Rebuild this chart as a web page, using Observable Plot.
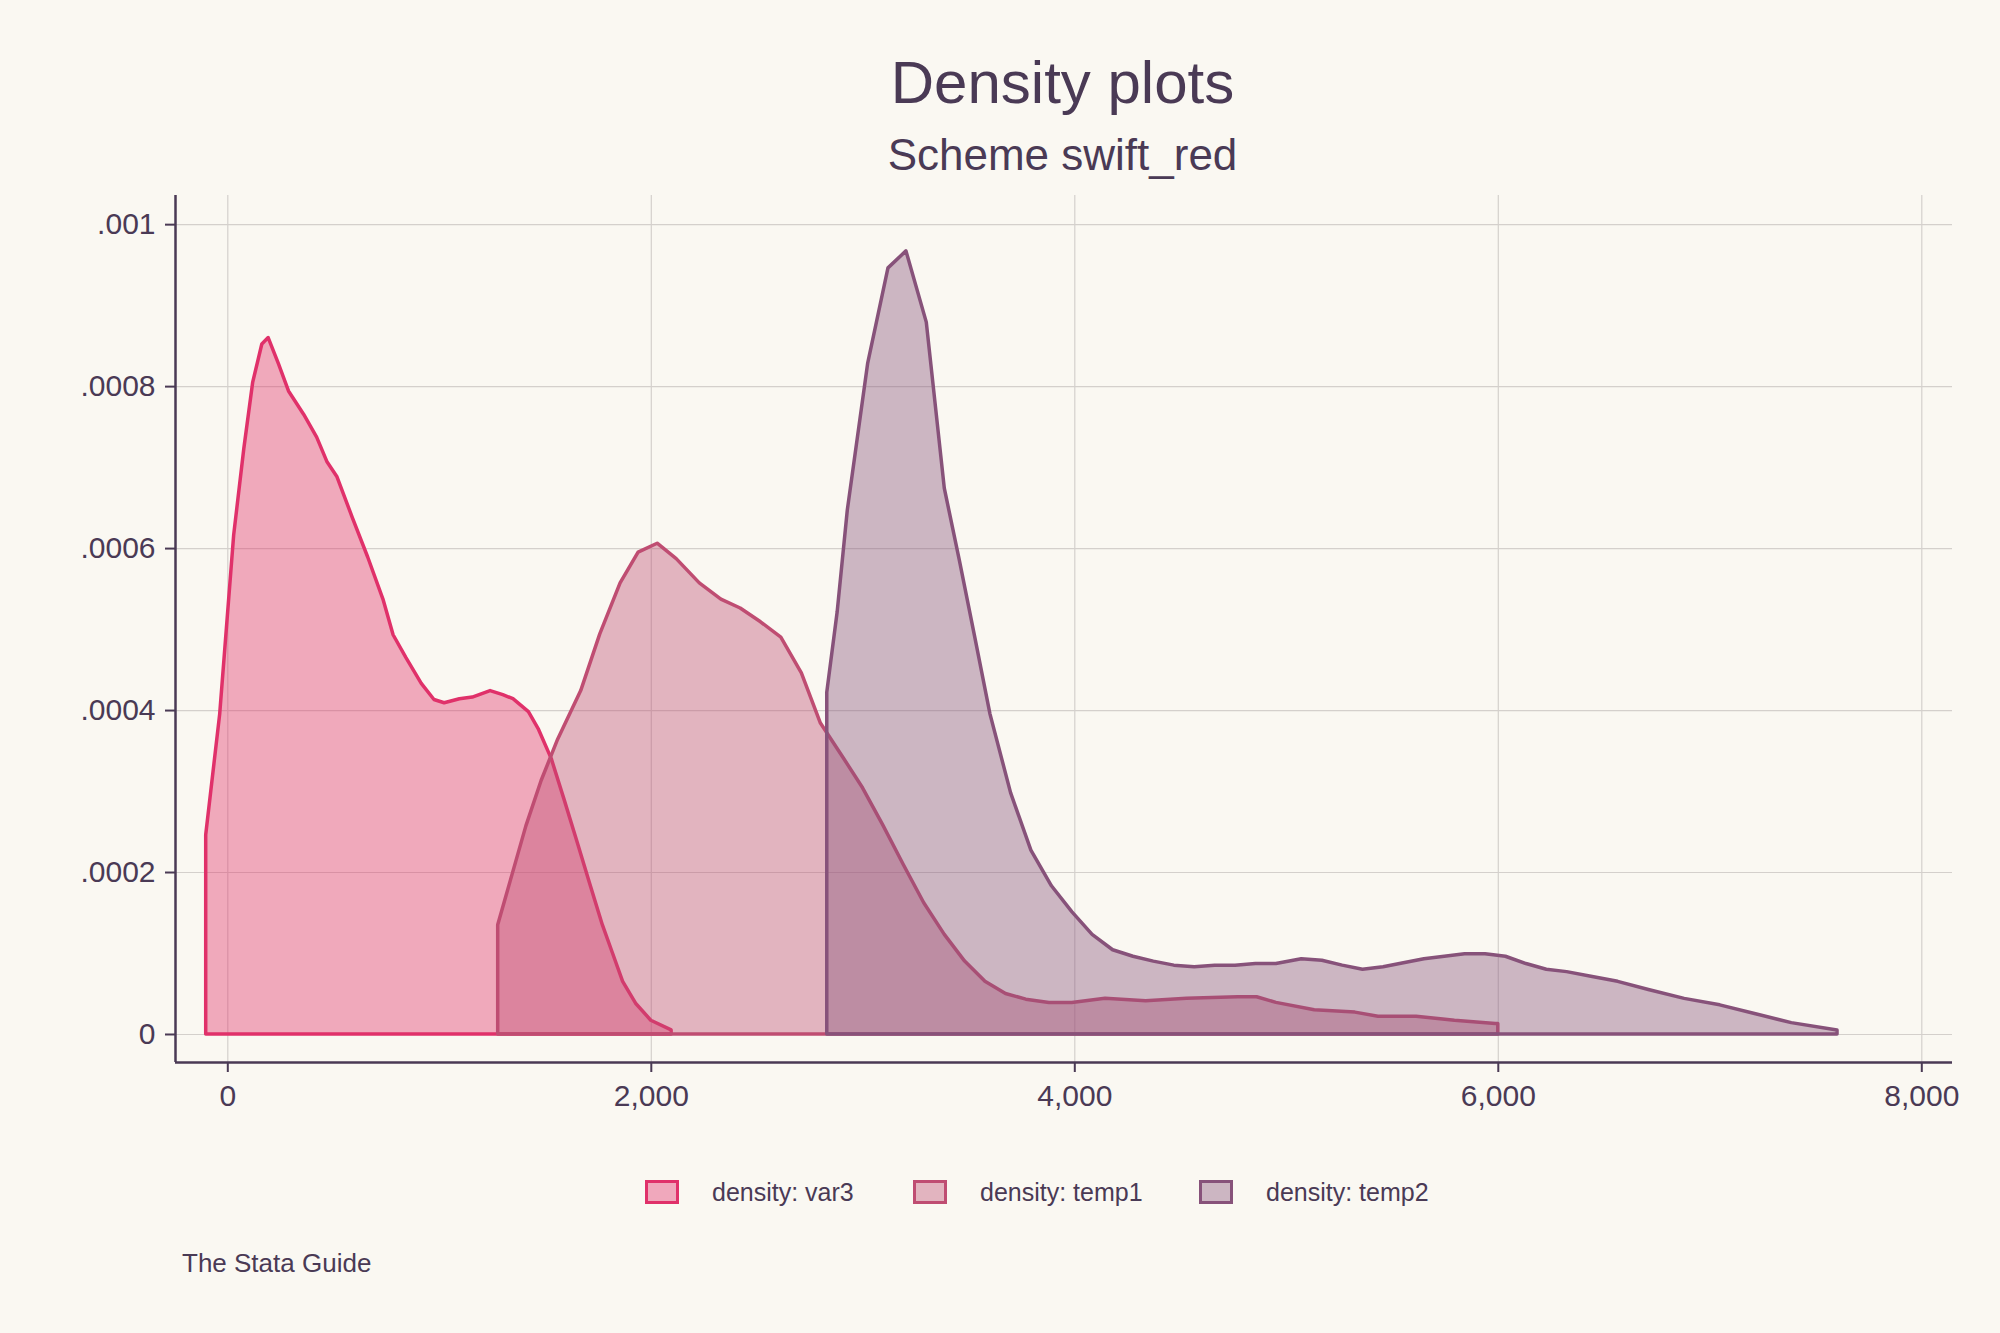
<!DOCTYPE html>
<html>
<head>
<meta charset="utf-8">
<script src="https://cdn.jsdelivr.net/npm/d3@7"></script>
<script src="https://cdn.jsdelivr.net/npm/@observablehq/plot@0.6"></script>
<style>
  body { margin: 0; background: #faf8f2; font-family: "Liberation Sans Narrow", "Liberation Sans", sans-serif; font-stretch: condensed; color: #4a3a55; }
  #wrap { position: relative; width: 2000px; height: 1333px; }
  #wrap svg { position: absolute; left: 0; top: 0; }
  .abs { position: absolute; white-space: nowrap; }
  .title { left: 0; width: 2125px; text-align: center; }
  .sw { position: absolute; width: 34px; height: 24px; border: 3px solid; box-sizing: border-box; }
</style>
</head>
<body>
<div id="wrap"></div>
<script>
const var3X = [-102,-102,-36,30,78,120,163,193,241,289,361,422,470,518,590,663,735,783,843,916,976,1024,1096,1157,1241,1301,1349,1422,1470,1530,1590,1651,1711,1771,1819,1867,1928,2000,2096];
const var3Y = [0,.000246,.000395,.000616,.000723,.000805,.000852,.00086,.000828,.000794,.000765,.000737,.000707,.000688,.000638,.000589,.000537,.000493,.000465,.000433,.000413,.000409,.000414,.000416,.000424,.000419,.000414,.000398,.000376,.00034,.00029,.000238,.000186,.000135,.0001,.000065,.000038,.000017,.000005];
const temp1X = [1277,1277,1337,1410,1482,1560,1669,1759,1855,1940,2030,2120,2229,2331,2422,2518,2614,2711,2801,2904,3000,3096,3193,3289,3386,3482,3578,3675,3771,3880,3988,4145,4337,4530,4771,4861,4952,5133,5325,5434,5614,5795,5988,6000];
const temp1Y = [0,.000135,.00019,.000257,.000313,.000364,.000424,.000494,.000557,.000595,.000606,.000587,.000557,.000537,.000526,.000509,.00049,.000446,.000384,.000343,.000304,.000258,.000209,.000162,.000123,.00009,.000065,.00005,.000043,.000039,.000039,.000044,.000041,.000044,.000046,.000046,.000039,.00003,.000027,.000022,.000022,.000017,.000013,.000013];
const temp2X = [2831,2831,2880,2928,3024,3120,3205,3301,3386,3458,3530,3602,3699,3795,3892,3988,4084,4181,4277,4373,4470,4566,4663,4759,4855,4952,5072,5169,5265,5361,5458,5554,5651,5747,5843,5940,6036,6133,6229,6325,6446,6566,6711,6880,7048,7217,7386,7602];
const temp2Y = [0,.000422,.000521,.000647,.000828,.000946,.000967,.000879,.000674,.000584,.00049,.000395,.000298,.000227,.000183,.000151,.000123,.000104,.000096,.00009,.000085,.000083,.000085,.000085,.000087,.000087,.000093,.000091,.000085,.00008,.000083,.000088,.000093,.000096,.000099,.000099,.000096,.000087,.00008,.000077,.000071,.000065,.000055,.000044,.000036,.000025,.000014,.000005];

const seriesNames = ["density: var3", "density: temp1", "density: temp2"];
const seriesColors = ["#e0316a", "#bf4d72", "#87527a"];
const xTicks = [0, 2000, 4000, 6000, 8000];
const yTicks = [0, .0002, .0004, .0006, .0008, .001];

const toRows = (xs, ys, s) => xs.map((x, i) => ({x, y: ys[i], s}));
const series = [toRows(var3X, var3Y, 0), toRows(temp1X, temp1Y, 1), toRows(temp2X, temp2Y, 2)];

const ink = "#4a3a55";
const fmtY = d => d === 0 ? "0" : d3.format(".4~f")(d).replace(/^0/, "");

const chart = Plot.plot({
  width: 2000,
  height: 1333,
  marginTop: 195,
  marginBottom: 271,
  marginLeft: 175,
  marginRight: 48,
  style: {background: "transparent", fontFamily: "'Liberation Sans Narrow', 'Liberation Sans', sans-serif", fontSize: "30px", color: ink},
  x: {domain: [-247, 8145], ticks: xTicks},
  y: {domain: [-0.0000346, 0.001036], ticks: yTicks},
  marks: [
    Plot.ruleX(xTicks, {stroke: "#d4d0cc", strokeWidth: 1.2}),
    Plot.ruleY(yTicks, {stroke: "#d4d0cc", strokeWidth: 1.2}),
    ...series.map((d, i) => Plot.areaY(d, {
      x: "x", y: "y", fill: seriesColors[i], fillOpacity: 0.4,
      stroke: seriesColors[i], strokeWidth: 3.5, strokeLinejoin: "round"
    })),
    Plot.axisX({ticks: xTicks, tickSize: 10, tickPadding: 12, label: null, stroke: ink, strokeWidth: 2, fill: ink}),
    Plot.axisY({ticks: yTicks, tickSize: 10, tickPadding: 10, label: null, tickFormat: fmtY, stroke: ink, strokeWidth: 2, fill: ink}),
    Plot.ruleX([-247], {stroke: ink, strokeWidth: 2.5}),
    Plot.ruleY([-0.0000346], {stroke: ink, strokeWidth: 2.5})
  ]
});

const wrap = document.getElementById("wrap");
wrap.append(chart);

const add = (html, css, cls = "abs") => {
  const el = document.createElement("div");
  el.className = cls;
  el.innerHTML = html;
  Object.assign(el.style, css);
  wrap.append(el);
  return el;
};
add("Density plots", {top: "48px", fontSize: "60px"}, "abs title");
add("Scheme swift_red", {top: "130px", fontSize: "44px"}, "abs title");

const swX = [645, 913, 1199];
seriesNames.forEach((name, i) => {
  const sw = add("", {left: swX[i] + "px", top: "1180px", borderColor: seriesColors[i],
    background: d3.interpolateRgb("#faf8f2", seriesColors[i])(0.4)}, "sw");
  add(name, {left: (swX[i] + 67) + "px", top: "1178px", fontSize: "25px"});
});
add("The Stata Guide", {left: "182px", top: "1248px", fontSize: "26px"});
</script>
</body>
</html>
